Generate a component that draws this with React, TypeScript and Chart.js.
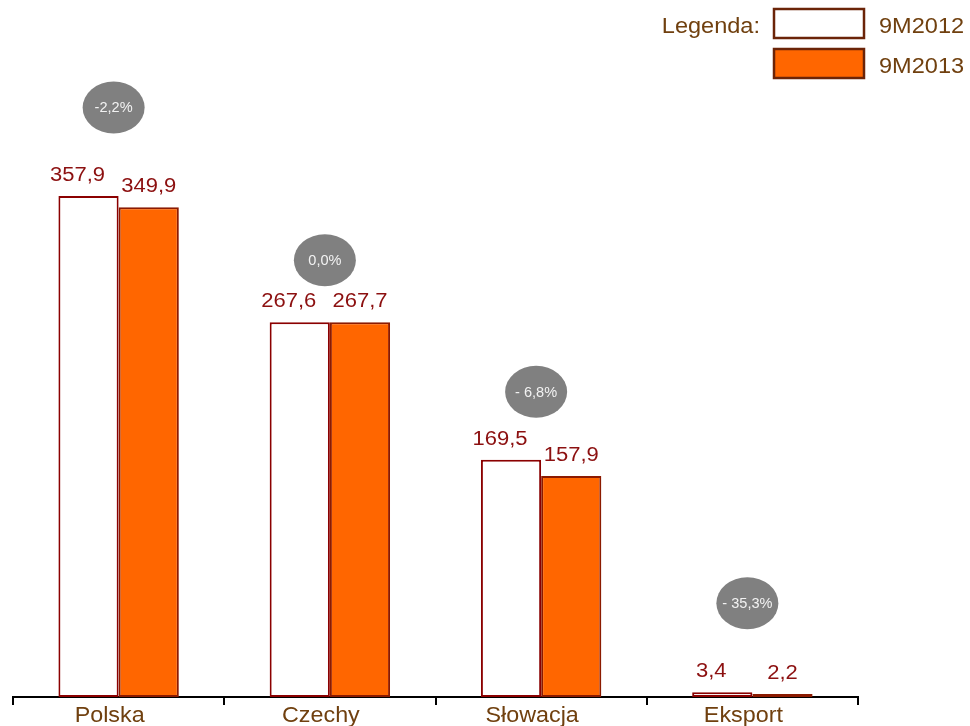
import React, { useEffect, useRef } from 'react';
import { Chart, registerables } from 'chart.js';

Chart.register(...registerables);

const categories = ['Polska', 'Czechy', 'Słowacja', 'Eksport'];
const seriesNames = ['9M2012', '9M2013'];
const values2012 = [357.9, 267.6, 169.5, 3.4];
const values2013 = [349.9, 267.7, 157.9, 2.2];
const changeLabels = ['-2,2%', '0,0%', '- 6,8%', '- 35,3%'];
const bubbleLevels = [421, 312, 218, 67];
const legendTitle = 'Legenda:';
const yMax = 460;

const FONT = '"Liberation Sans", Arial, sans-serif';
const BROWN = '#70400F';
const VALUE_RED = '#8C1010';

function drawText(
  ctx: CanvasRenderingContext2D,
  text: string,
  x: number,
  y: number,
  size: number,
  color: string,
  align: CanvasTextAlign,
  sx: number,
  baseline: CanvasTextBaseline = 'alphabetic'
) {
  ctx.save();
  ctx.font = `${size}px ${FONT}`;
  ctx.fillStyle = color;
  ctx.textAlign = align;
  ctx.textBaseline = baseline;
  ctx.translate(x, y);
  ctx.scale(sx, 1);
  ctx.fillText(text, 0, 0);
  ctx.restore();
}

const fmt = (v: number) => v.toFixed(1).replace('.', ',');

const overlayPlugin = {
  id: 'overlay',
  afterDatasetsDraw(chart: any) {
    const ctx: CanvasRenderingContext2D = chart.ctx;
    const xScale = chart.scales.x;
    const yScale = chart.scales.y;

    // value labels
    chart.data.datasets.forEach((ds: any, di: number) => {
      const meta = chart.getDatasetMeta(di);
      meta.data.forEach((bar: any, i: number) => {
        const shift = di === 0 ? -11 : 0;
        drawText(ctx, fmt(ds.data[i]), bar.x + shift, bar.y - 15, 20, VALUE_RED, 'center', 1.1);
      });
    });

    // change bubbles
    categories.forEach((_, i) => {
      const cx = xScale.getPixelForValue(i) - 5;
      const cy = yScale.getPixelForValue(bubbleLevels[i]);
      ctx.save();
      ctx.fillStyle = '#808080';
      ctx.beginPath();
      ctx.ellipse(cx, cy, 31, 26, 0, 0, Math.PI * 2);
      ctx.fill();
      ctx.restore();
      drawText(ctx, changeLabels[i], cx, cy + 1, 14, '#F2F2F2', 'center', 1.04, 'middle');
    });

    // category labels
    (chart.data.labels as string[]).forEach((lab, i) => {
      const cx = xScale.getPixelForValue(i) - 9;
      drawText(ctx, lab, cx, xScale.top + 25, 22, BROWN, 'center', 1.06);
    });
  },
  afterDraw(chart: any) {
    const ctx: CanvasRenderingContext2D = chart.ctx;
    const boxX = 774;
    const boxW = 90;
    const boxH = 29;
    const rows = [9, 49];
    drawText(ctx, legendTitle, 760, 33, 22, BROWN, 'right', 1.07);
    chart.data.datasets.forEach((ds: any, di: number) => {
      const y = rows[di];
      ctx.save();
      ctx.fillStyle = ds.backgroundColor;
      ctx.fillRect(boxX, y, boxW, boxH);
      ctx.strokeStyle = '#6B2408';
      ctx.lineWidth = 2.5;
      ctx.strokeRect(boxX, y, boxW, boxH);
      ctx.restore();
      drawText(ctx, ds.label, 879, y + 24, 22, BROWN, 'left', 1.07);
    });
  },
};

export default function App() {
  const canvasRef = useRef<HTMLCanvasElement | null>(null);

  useEffect(() => {
    if (!canvasRef.current) return;
    const chart = new Chart(canvasRef.current, {
      type: 'bar',
      data: {
        labels: categories,
        datasets: [
          {
            label: seriesNames[0],
            data: values2012,
            backgroundColor: '#FFFFFF',
            borderColor: '#8B0000',
            borderWidth: 2,
            borderSkipped: false,
            categoryPercentage: 0.57,
            barPercentage: 1,
          },
          {
            label: seriesNames[1],
            data: values2013,
            backgroundColor: '#FF6600',
            borderColor: '#8B1A00',
            borderWidth: 2,
            borderSkipped: false,
            categoryPercentage: 0.57,
            barPercentage: 1,
          },
        ],
      },
      options: {
        responsive: false,
        animation: false,
        devicePixelRatio: 1,
        layout: { padding: { top: 53, left: 13, right: 112, bottom: 0 } },
        plugins: {
          legend: { display: false },
          tooltip: { enabled: false },
        },
        scales: {
          x: {
            grid: {
              offset: true,
              drawOnChartArea: false,
              drawTicks: true,
              tickLength: 8,
              color: '#000000',
              lineWidth: 2,
            },
            border: { display: true, color: '#000000', width: 2 },
            ticks: { display: false },
            afterFit: (s: any) => {
              s.height = 29;
            },
          },
          y: { display: false, min: 0, max: yMax },
        },
      },
      plugins: [overlayPlugin],
    });
    return () => chart.destroy();
  }, []);

  return (
    <div style={{ position: 'fixed', left: 0, top: 0, width: 970, height: 726, background: '#FFFFFF' }}>
      <canvas ref={canvasRef} width={970} height={726} style={{ width: 970, height: 726, display: 'block' }} />
    </div>
  );
}
